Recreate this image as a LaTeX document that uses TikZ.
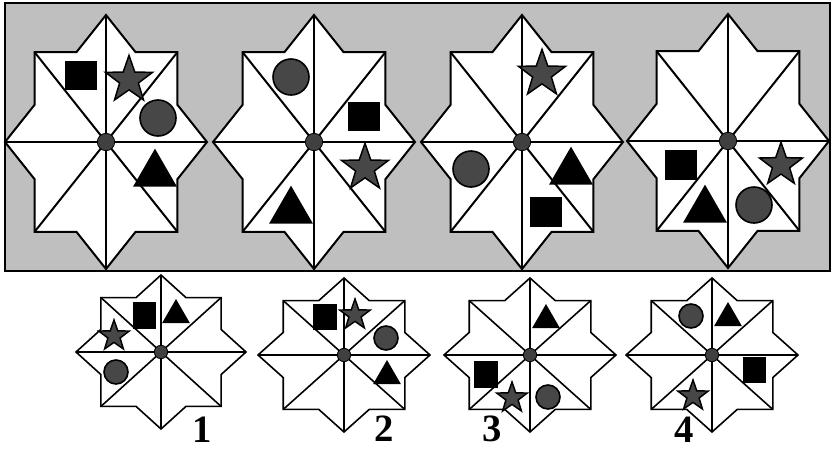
\documentclass[tikz,border=0pt]{standalone}
\usepackage{fontspec}
\setmainfont{Liberation Serif}
\usetikzlibrary{shapes.geometric}

\begin{document}
\begin{tikzpicture}[x=0.75pt, y=-0.75pt,
  panel/.style={fill=black!25, draw=black, line width=1.5pt},
  octa/.style={fill=white, draw=black, line join=miter},
  hub/.style={circle, draw=black, fill=black!75, line width=0.6pt, inner sep=0pt},
  sq/.style={rectangle, fill=black, inner sep=0pt},
  dot/.style={circle, draw=black, fill=black!72, line width=1.2pt, inner sep=0pt},
  pent/.style={star, star points=5, star point ratio=2.5, draw=black, fill=black!72, line width=1.1pt, inner sep=0pt},
  tri/.style={regular polygon, regular polygon sides=3, fill=black, inner sep=0pt},
  bsq/.style={sq, minimum width=24pt, minimum height=22pt},
  ssq/.style={sq, minimum width=17.5pt, minimum height=20pt},
  bdot/.style={dot, minimum size=27pt},
  sdot/.style={dot, minimum size=18pt},
  bpent/.style={pent, minimum size=37pt},
  spent/.style={pent, minimum size=24pt},
  btri/.style={tri, minimum size=38pt},
  stri/.style={tri, minimum size=24pt},
  num/.style={font=\fontsize{29}{29}\selectfont\bfseries, inner sep=0pt}]
  \useasboundingbox (0,0) rectangle (831,450);
  % grey strip behind the four given figures
  \draw[panel] (5,3) rectangle (830,271);
  % octagrams: centre x / centre y / half width / half height / pen / hub size
  \foreach \cx/\cy/\hx/\hy/\lw/\hs [count=\i] in
    {106/142/101/127/1.5/13, 314/142/101/127/1.5/13, 522/142/101/127/1.5/13, 728/141/101/127/1.5/13,
     161/352/85/77/1.2/10, 344/355/86/77/1.2/10, 530/355/86/77/1.2/10, 712/355/86/77/1.2/10}{
    \begin{scope}[shift={(\cx,\cy)}, xscale=\hx, yscale=\hy, line width=\lw pt]
      \draw[octa] (0,1) -- (.293,.707) -- (.707,.707) -- (.707,.293) -- (1,0)
        -- (.707,-.293) -- (.707,-.707) -- (.293,-.707) -- (0,-1)
        -- (-.293,-.707) -- (-.707,-.707) -- (-.707,-.293) -- (-1,0)
        -- (-.707,.293) -- (-.707,.707) -- (-.293,.707) -- cycle;
      \draw (0,1) -- (0,-1) (-1,0) -- (1,0);
      \draw (-.707,-.707) -- (.707,.707) (-.707,.707) -- (.707,-.707);
    \end{scope}
    \node[hub, minimum size=\hs pt] (hub\i) at (\cx,\cy) {};
  }
  % given figures
  \node[bsq]   (sqA)   at (81,75.5) {};
  \node[bpent] (stA)   at (129,80) {};
  \node[bdot]  (ciA)   at (158,118) {};
  \node[btri]  (trA)   at (155,174) {};
  \node[bdot]  (ciB)   at (291,77) {};
  \node[bsq]   (sqB)   at (364,116.5) {};
  \node[bpent] (stB)   at (365,168) {};
  \node[btri]  (trB)   at (291,211) {};
  \node[bpent] (stC)   at (542,74) {};
  \node[bdot]  (ciC)   at (471,169) {};
  \node[btri]  (trC)   at (571,172) {};
  \node[bsq]   (sqC)   at (546,212) {};
  \node[bsq]   (sqD)   at (681,165) {};
  \node[btri]  (trD)   at (705,210) {};
  \node[bdot]  (ciD)   at (754,205) {};
  \node[bpent, minimum size=34pt] (stD) at (781,165) {};
  % answer choices
  \node[ssq]   (sq1)   at (144.5,315.5) {};
  \node[stri]  (tr1)   at (176,315) {};
  \node[spent] (st1)   at (114,336) {};
  \node[sdot]  (ci1)   at (116,372) {};
  \node[ssq]   (sq2)   at (325,317) {};
  \node[spent] (st2)   at (355,315) {};
  \node[sdot]  (ci2)   at (386,338) {};
  \node[stri]  (tr2)   at (387,376) {};
  \node[stri]  (tr3)   at (546,320) {};
  \node[ssq]   (sq3)   at (486,374.5) {};
  \node[spent] (st3)   at (512,398) {};
  \node[sdot]  (ci3)   at (548,397) {};
  \node[sdot]  (ci4)   at (691,316) {};
  \node[stri]  (tr4)   at (728,318) {};
  \node[ssq]   (sq4)   at (754.5,370) {};
  \node[spent] (st4)   at (693,396) {};
  \node[num] (n1) at (202,430) {1};
  \node[num] (n2) at (384,429) {2};
  \node[num] (n3) at (492,429) {3};
  \node[num] (n4) at (684,430) {4};
\end{tikzpicture}
\end{document}
